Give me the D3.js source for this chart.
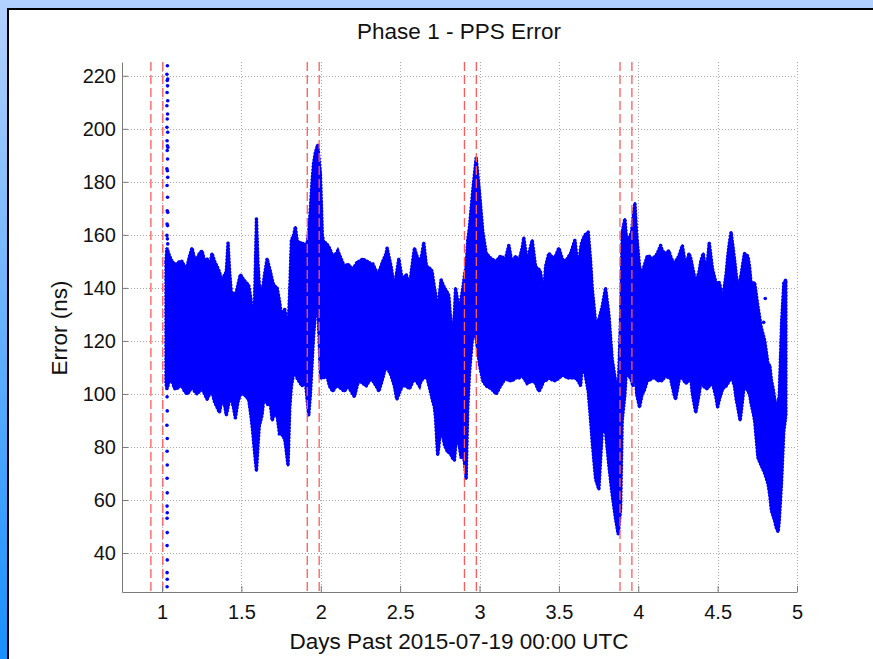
<!DOCTYPE html>
<meta charset="utf-8" />
<title>Phase 1 - PPS Error</title>
<style>
  body { margin: 0; background: #fff; }
  text { font-family: "Liberation Sans", Arial, Helvetica, sans-serif; fill: #111; }
  .grid line { stroke: #a8a8a8; stroke-width: 1; stroke-dasharray: 1,2; }
  .axis path, .axis line { stroke: #7a7a7a; }
  .marker { stroke: #ff5a5a; stroke-width: 1.3; stroke-dasharray: 9,4; }
</style>

<body>
  <script src="https://d3js.org/d3.v7.min.js"></script>
  <script>
    // tick positions and labels
    var xTicks = [1, 1.5, 2, 2.5, 3, 3.5, 4, 4.5, 5];
    var xTickLabels = ["1", "1.5", "2", "2.5", "3", "3.5", "4", "4.5", "5"];
    var yTicks = [40, 60, 80, 100, 120, 140, 160, 180, 200, 220];

    // red dashed markers (days)
    var markerDays = [0.93, 1.005, 1.915, 1.99, 2.905, 2.98, 3.885, 3.96];

    // envelope of the dense PPS error cloud: day, upper edge, lower edge (ns)
    var bandDay = [
      1.025, 1.031, 1.047, 1.063, 1.079, 1.095, 1.110, 1.126, 1.142, 1.158,
      1.174, 1.189, 1.205, 1.221, 1.236, 1.252, 1.268, 1.284, 1.300, 1.315,
      1.331, 1.347, 1.362, 1.378, 1.394, 1.405, 1.416, 1.426, 1.437, 1.450,
      1.462, 1.478, 1.494, 1.515, 1.530, 1.546, 1.560, 1.571, 1.583, 1.595,
      1.604, 1.613, 1.630, 1.646, 1.662, 1.683, 1.694, 1.704, 1.725, 1.740,
      1.752, 1.773, 1.784, 1.794, 1.805, 1.815, 1.830, 1.840, 1.851, 1.861,
      1.882, 1.903, 1.914, 1.924, 1.935, 1.945, 1.955, 1.966, 1.981, 1.990,
      1.998, 2.010, 2.019,
      2.034, 2.055, 2.076, 2.097, 2.107, 2.128, 2.149, 2.170, 2.202, 2.212,
      2.233, 2.244, 2.265, 2.286, 2.296, 2.317, 2.328, 2.359, 2.366, 2.391,
      2.412, 2.418, 2.443, 2.464, 2.479, 2.492, 2.513, 2.538, 2.559, 2.590,
      2.611, 2.622, 2.632, 2.649, 2.664, 2.670, 2.695, 2.702, 2.716, 2.723,
      2.733, 2.737, 2.758, 2.779, 2.800, 2.807, 2.821, 2.828, 2.842, 2.849,
      2.863, 2.874, 2.884, 2.895, 2.906, 2.916, 2.926, 2.937, 2.958, 2.979,
      3.000, 3.021, 3.042, 3.074, 3.105,
      3.132, 3.164, 3.185, 3.206, 3.227, 3.248, 3.269, 3.279, 3.300, 3.332,
      3.353, 3.374, 3.384, 3.405, 3.416, 3.437, 3.468, 3.479, 3.500, 3.521,
      3.532, 3.553, 3.574, 3.601, 3.622, 3.637, 3.643, 3.664, 3.685, 3.700,
      3.710, 3.731, 3.752, 3.773, 3.794, 3.815, 3.836, 3.857, 3.874, 3.889,
      3.899, 3.916, 3.924, 3.937, 3.951, 3.958, 3.966, 3.979, 3.990, 4.008,
      4.025, 4.036, 4.057, 4.067, 4.088, 4.109, 4.120, 4.141, 4.151, 4.172,
      4.193, 4.203, 4.225, 4.235, 4.256, 4.267, 4.278, 4.299, 4.320, 4.331,
      4.341, 4.362, 4.383, 4.394, 4.409, 4.430, 4.436, 4.447, 4.468, 4.489,
      4.500, 4.511, 4.532, 4.553, 4.564, 4.574, 4.585, 4.606, 4.617, 4.627,
      4.642, 4.648, 4.669, 4.691, 4.701, 4.712, 4.727, 4.733, 4.754, 4.775,
      4.797, 4.818, 4.828, 4.839, 4.850, 4.860, 4.867, 4.881, 4.888, 4.903,
      4.917, 4.930
    ];
    var bandHi = [
      150, 155, 152, 150, 149, 149, 150, 150, 148, 148,
      152, 155, 151, 151, 153, 154, 150, 151, 148, 153,
      150, 148, 146, 142, 145, 146, 157, 146, 138, 138,
      137, 141, 145, 143, 142, 141, 136, 126, 135, 166,
      150, 141, 138, 145, 151, 146, 143, 141, 140, 135,
      130, 132, 128, 123, 140, 158, 160, 163, 158, 157,
      157, 156, 157, 161, 170, 180, 187, 191, 194, 188,
      183, 160, 157,
      157, 155, 152, 153, 154, 151, 148, 149, 147, 148,
      150, 150, 151, 150, 150, 149, 149, 145, 146, 150,
      153, 155, 148, 140, 146, 151, 143, 145, 141, 155,
      151, 151, 151, 157, 149, 148, 147, 146, 140, 138,
      130, 132, 143, 140, 138, 137, 126, 121, 130, 140,
      135, 132, 136, 140, 145, 148, 158, 163, 177, 189,
      176, 161, 153, 151, 150,
      152, 151, 156, 149, 152, 150, 155, 159, 150, 158,
      148, 147, 146, 138, 148, 153, 151, 152, 155, 151,
      150, 151, 153, 158, 147, 155, 157, 160, 161, 150,
      140, 127, 128, 133, 140, 130, 113, 105, 101, 130,
      161, 166, 160, 158, 160, 161, 166, 172, 160, 148,
      145, 148, 152, 152, 151, 152, 153, 156, 154, 153,
      154, 152, 149, 150, 152, 154, 156, 148, 153, 151,
      148, 142, 146, 150, 153, 145, 150, 157, 147, 142,
      142, 142, 136, 145, 152, 157, 161, 151, 145, 140,
      143, 145, 153, 152, 148, 141, 142, 142, 133, 125,
      120, 111, 111, 105, 102, 98, 95, 97, 99, 127,
      142, 143
    ];
    var bandLo = [
      104, 102, 105, 105, 102, 102, 103, 103, 101, 100,
      101, 103, 101, 100, 101, 102, 100, 98, 100, 101,
      97, 95, 93, 98, 96, 92, 95, 98, 98, 95,
      91, 97, 100, 100, 99, 98, 92, 86, 78, 71,
      80, 88, 92, 101, 96, 96, 90, 92, 92, 85,
      85, 83, 78, 73, 95, 103, 108, 108, 106, 105,
      103, 105, 98, 92, 100, 111, 122, 130, 136, 120,
      106, 106, 106,
      108, 103, 101, 103, 103, 102, 101, 103, 100, 99,
      104, 105, 104, 103, 104, 106, 105, 102, 101, 106,
      111, 110, 107, 103, 98, 100, 103, 103, 102, 106,
      104, 103, 105, 106, 107, 106, 100, 98, 95, 91,
      80, 77, 88, 81, 78, 78, 77, 76, 75, 80,
      86, 80, 76, 78, 74, 68, 95, 108, 123, 121,
      111, 105, 103, 102, 100,
      103, 106, 105, 105, 106, 106, 107, 106, 104, 105,
      104, 101, 102, 105, 105, 106, 105, 105, 106, 107,
      107, 106, 106, 106, 105, 103, 108, 108, 101, 90,
      82, 68, 64, 86, 86, 73, 62, 53, 47, 57,
      90, 100, 108, 107, 106, 105, 103, 110, 100, 95,
      100, 101, 105, 105, 106, 106, 105, 105, 105, 107,
      106, 106, 100, 98, 105, 107, 106, 104, 105, 106,
      100, 93, 100, 104, 103, 102, 102, 103, 104, 99,
      95, 98, 102, 103, 104, 105, 107, 103, 98, 95,
      90, 93, 104, 101, 100, 96, 92, 90, 76, 73,
      70, 66, 62, 56, 54, 52, 50, 48, 52, 67,
      86, 92
    ];

    // sparse points right after day 1 and a few stray points
    var loosePoints = [
      [1.034, 223.8], [1.031, 220.6], [1.036, 218.8], [1.033, 218.2], [1.035, 216.2],
      [1.032, 213.7], [1.036, 210.6], [1.031, 208.7], [1.035, 205.6], [1.033, 203.7],
      [1.031, 200.6], [1.036, 198.7], [1.032, 195.5], [1.034, 193.6], [1.037, 193.0],
      [1.033, 191.8], [1.035, 188.6], [1.031, 184.9], [1.034, 184.2], [1.036, 181.7],
      [1.032, 178.6], [1.035, 174.2], [1.033, 169.1], [1.036, 168.5], [1.032, 164.1],
      [1.035, 163.5], [1.031, 159.8], [1.034, 158.5], [1.036, 156.6],
      [1.032, 98.9], [1.033, 93.6], [1.031, 88.2], [1.033, 83.2], [1.032, 78.4],
      [1.033, 73.2], [1.032, 68.2], [1.033, 62.7], [1.032, 57.7], [1.033, 55.2],
      [1.032, 53.1], [1.033, 47.7], [1.032, 42.8], [1.033, 37.4], [1.032, 32.6],
      [1.033, 30.1], [1.032, 27.3],
      [4.800, 136], [4.790, 127]
    ];

    var W = 873, H = 659;
    var x = d3.scaleLinear().domain([0.748, 5]).range([122, 797]);
    var y = d3.scaleLinear().domain([25.3, 225.2]).range([592, 62]);

    var svg = d3.select("body").append("svg")
      .attr("width", W)
      .attr("height", H);

    // slide background: blue gradient, black frame, white panel
    var grad = svg.append("defs").append("linearGradient")
      .attr("id", "bg").attr("x1", 0).attr("y1", 0).attr("x2", 0).attr("y2", 1);
    grad.append("stop").attr("offset", "0%").attr("stop-color", "#b4d1fd");
    grad.append("stop").attr("offset", "100%").attr("stop-color", "#1890fd");
    svg.append("rect").attr("width", W).attr("height", H).attr("fill", "url(#bg)");
    svg.append("rect").attr("x", 7).attr("y", 8).attr("width", W).attr("height", H).attr("fill", "#000");
    svg.append("rect").attr("x", 9).attr("y", 10).attr("width", W).attr("height", H).attr("fill", "#fff");

    // grid
    var grid = svg.append("g").attr("class", "grid");
    grid.selectAll(".gx").data(xTicks).enter().append("line")
      .attr("x1", function(d) { return Math.round(x(d)) + 0.5; })
      .attr("x2", function(d) { return Math.round(x(d)) + 0.5; })
      .attr("y1", y.range()[1]).attr("y2", y.range()[0]);
    grid.selectAll(".gy").data(yTicks).enter().append("line")
      .attr("y1", function(d) { return Math.round(y(d)) + 0.5; })
      .attr("y2", function(d) { return Math.round(y(d)) + 0.5; })
      .attr("x1", x.range()[0]).attr("x2", x.range()[1]);

    // data cloud
    var band = bandDay.map(function(d, i) {
      return { day: d, hi: bandHi[i], lo: bandLo[i] };
    });
    var area = d3.area()
      .x(function(d) { return x(d.day); })
      .y0(function(d) { return y(d.lo); })
      .y1(function(d) { return y(d.hi); });
    svg.append("path")
      .datum(band)
      .attr("d", area)
      .attr("fill", "#0000ff")
      .attr("stroke", "#0000ff")
      .attr("stroke-width", 2)
      .attr("stroke-linejoin", "round");
    // dotted rim so the edge reads as a cloud of markers
    svg.append("path")
      .datum(band)
      .attr("d", area)
      .attr("fill", "none")
      .attr("stroke", "#0000ff")
      .attr("stroke-width", 3.6)
      .attr("stroke-linecap", "round")
      .attr("stroke-dasharray", "0.1,3.2");

    svg.append("g").selectAll("circle")
      .data(loosePoints)
      .enter().append("circle")
      .attr("cx", function(d) { return x(d[0]); })
      .attr("cy", function(d) { return y(d[1]); })
      .attr("r", 1.8)
      .attr("fill", "#0000ff");

    // red dashed markers
    svg.append("g").selectAll("line")
      .data(markerDays)
      .enter().append("line")
      .attr("class", "marker")
      .attr("x1", function(d) { return x(d); })
      .attr("x2", function(d) { return x(d); })
      .attr("y1", y.range()[1]).attr("y2", y.range()[0]);

    // axes (ticks point inward, no box)
    var xAxis = d3.axisBottom(x)
      .tickValues(xTicks)
      .tickFormat(function(d, i) { return xTickLabels[i]; })
      .tickSizeInner(-6).tickSizeOuter(0).tickPadding(10);
    var yAxis = d3.axisLeft(y)
      .tickValues(yTicks)
      .tickSizeInner(-6).tickSizeOuter(0).tickPadding(6);

    var gx = svg.append("g").attr("class", "axis")
      .attr("transform", "translate(0,592)")
      .call(xAxis);
    var gy = svg.append("g").attr("class", "axis")
      .attr("transform", "translate(122,0)")
      .call(yAxis);
    svg.selectAll(".axis text").style("font-size", "20px").attr("fill", "#111");
    gx.selectAll("text").attr("dy", "0.85em");

    // titles
    svg.append("text")
      .attr("x", 459).attr("y", 39)
      .attr("text-anchor", "middle")
      .style("font-size", "22.5px")
      .text("Phase 1 - PPS Error");
    svg.append("text")
      .attr("x", 459).attr("y", 649)
      .attr("text-anchor", "middle")
      .style("font-size", "22.5px")
      .text("Days Past 2015-07-19 00:00 UTC");
    svg.append("text")
      .attr("transform", "translate(67,328) rotate(-90)")
      .attr("text-anchor", "middle")
      .style("font-size", "22.5px")
      .text("Error (ns)");
  </script>
</body>
